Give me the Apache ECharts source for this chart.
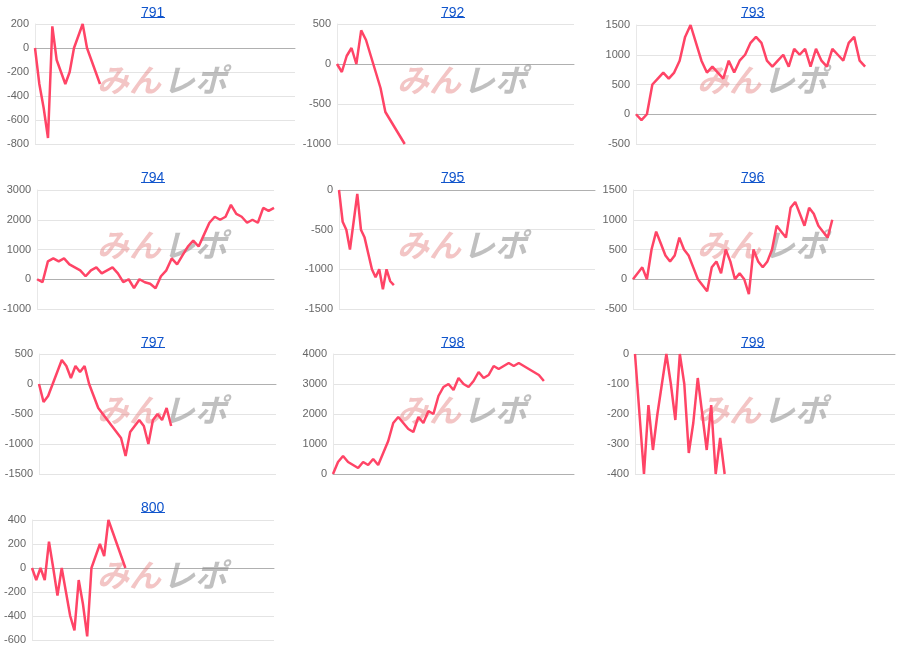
<!DOCTYPE html>
<html><head><meta charset="utf-8">
<script src="https://cdn.jsdelivr.net/npm/echarts@6/dist/echarts.min.js"></script>
<style>body{margin:0;background:#fff}#c{width:900px;height:660px}</style>
</head><body><div id="c"></div>
<script>
const titles = ['791','792','793','794','795','796','797','798','799','800'];
const s791 = [0,-300,-500,-750,180,-100,-200,-300,-200,0,100,200,0,-100,-200,-300];
const s792 = [0,-100,100,200,0,420,300,100,-100,-300,-600,-700,-800,-900,-1000];
const s793 = [0,-100,0,500,600,700,600,700,900,1300,1500,1200,900,700,800,700,600,900,700,900,1000,1200,1300,1200,900,800,900,1000,800,1100,1000,1100,800,1100,900,800,1100,1000,900,1200,1300,900,800];
const s794 = [0,-100,600,700,600,700,500,400,300,100,300,400,200,300,400,200,-100,0,-300,0,-100,-150,-300,100,300,700,500,800,1100,1300,1100,1500,1900,2100,2000,2100,2500,2200,2100,1900,2000,1900,2400,2300,2400];
const s795 = [0,-400,-500,-750,-400,-50,-500,-600,-800,-1000,-1100,-1000,-1250,-1000,-1150,-1200];
const s796 = [0,100,200,0,500,800,600,400,300,400,700,500,400,200,0,-100,-200,200,300,100,500,300,0,100,0,-250,500,300,200,300,500,900,800,700,1200,1300,1100,900,1200,1100,900,800,700,1000];
const s797 = [0,-300,-200,0,200,400,300,100,300,200,300,0,-200,-400,-500,-600,-700,-800,-900,-1200,-800,-700,-600,-700,-1000,-600,-500,-600,-400,-700];
const s798 = [0,400,600,400,300,200,400,300,500,300,700,1100,1700,1900,1700,1500,1400,1900,1700,2100,2000,2600,2900,3000,2800,3200,3000,2900,3100,3400,3200,3300,3600,3500,3600,3700,3600,3700,3600,3500,3400,3300,3100];
const s799 = [0,null,-400,-170,-320,-200,-100,0,-100,-220,0,-100,-330,-230,-80,-200,-320,-170,-400,-280,-400];
const s800 = [0,-100,0,-100,220,0,-230,0,-200,-400,-520,-100,-300,-570,0,100,200,100,400,300,200,100,0];
const series = [s791,s792,s793,s794,s795,s796,s797,s798,s799,s800];
const yMin = [-800,-1000,-500,-1000,-1500,-500,-1500,0,-400,-600];
const yMax = [200,500,1500,3000,0,1500,500,4000,0,400];
const yStep = [200,500,500,1000,500,500,500,1000,100,200];
const slots = [60,49,44,44,70,52,52,48,58,57];

const boxes = [
 [35,295,24,144],[337,574,24,144],[636,876,25,144],
 [37,274,190,309],[339,595,190,309],[633,874,190,309],
 [39,276,354,474],[333,574,354,474],[635,895,354,474],
 [32,274,520,640]
];
const grid=[],xAxis=[],yAxis=[],ser=[],title=[],graphic=[];
boxes.forEach((b,i)=>{
  const col=i%3,row=Math.floor(i/3);
  grid.push({left:b[0],width:b[1]-b[0],top:b[2],height:b[3]-b[2]});
  const cats=[];for(let k=0;k<=slots[i];k++)cats.push(k);
  xAxis.push({type:'category',gridIndex:i,data:cats,boundaryGap:false,
    axisLine:{onZero:true,lineStyle:{color:'#b0b0b0'}},axisTick:{show:false},axisLabel:{show:false},splitLine:{show:false}});
  yAxis.push({type:'value',gridIndex:i,min:yMin[i],max:yMax[i],interval:yStep[i],
    axisLine:{show:true,lineStyle:{color:'#e8e8e8'}},axisTick:{show:false},
    axisLabel:{color:'#666',fontSize:11,fontFamily:'Arial, Liberation Sans',margin:6,formatter:v=>String(v)},
    splitLine:{lineStyle:{color:'#e4e4e4'}}});
  ser.push({type:'line',xAxisIndex:i,yAxisIndex:i,data:series[i],showSymbol:false,connectNulls:true,
    lineStyle:{color:'#ff4466',width:2.5},itemStyle:{color:'#ff4466'},z:3,animation:false});
  const tx=col*300+136, ty=row*165+1;
  title.push({text:titles[i],left:tx,top:ty,
    textStyle:{color:'#1155cc',fontSize:14,fontWeight:'normal',fontFamily:'Arial, Liberation Sans'}});
  graphic.push({type:'line',z:5,shape:{x1:tx+5,y1:ty+16.5,x2:tx+29,y2:ty+16.5},style:{stroke:'#1155cc',lineWidth:1}});
  const cx=col*300+165, cy=row*165+80;
  graphic.push({type:'text',left:cx-68,top:cy-16,z:1,style:{text:'みん',fill:'rgba(225,110,110,0.4)',font:'italic bold 32px "Noto Sans CJK JP"'}});
  graphic.push({type:'text',left:cx-2,top:cy-16,z:1,style:{text:'レポ',fill:'rgba(140,140,140,0.55)',font:'italic bold 32px "Noto Sans CJK JP"'}});
});
const chart=echarts.init(document.getElementById('c'));
chart.setOption({animation:false,title,grid,xAxis,yAxis,series:ser,graphic});
</script></body></html>
